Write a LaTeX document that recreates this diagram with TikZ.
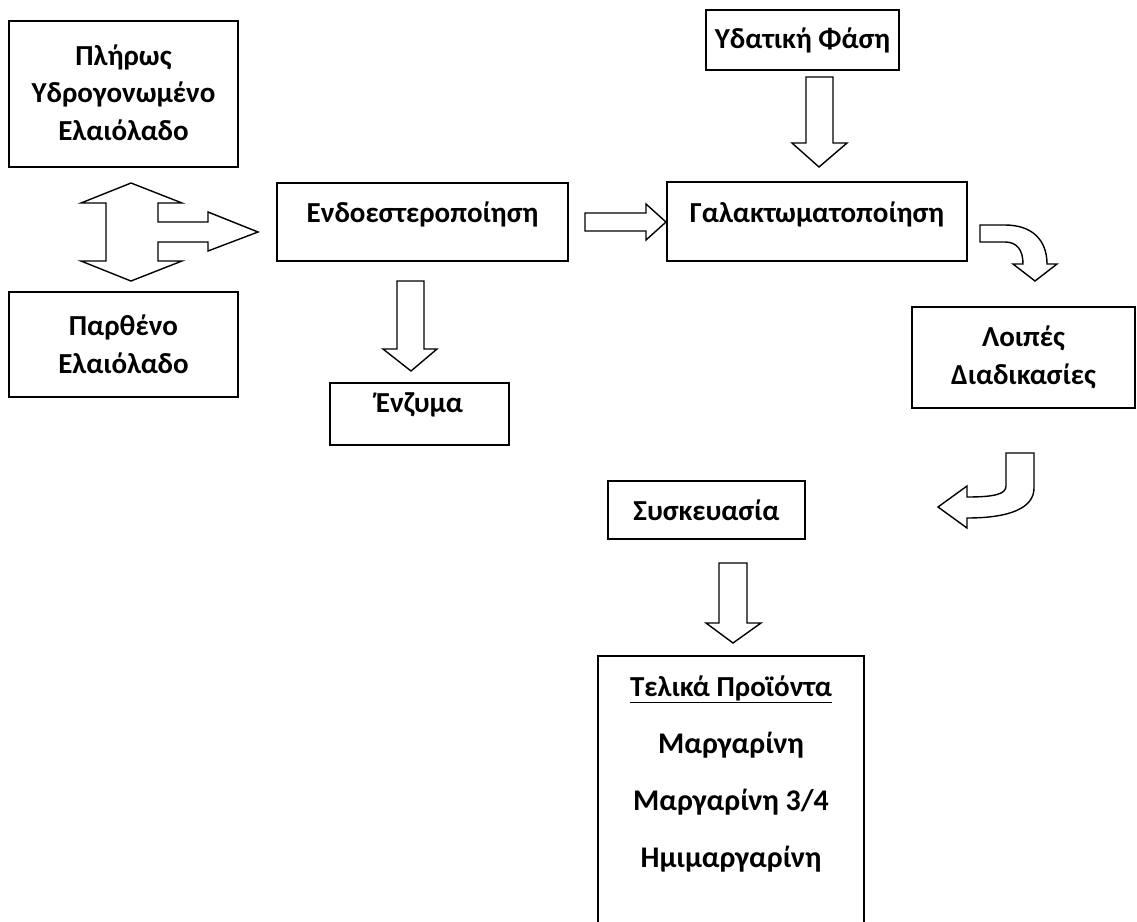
\documentclass[tikz,border=0pt]{standalone}
\usepackage{fontspec}
\setmainfont{Carlito}
\begin{document}
\begin{tikzpicture}[x=1pt,y=-1pt,
  box/.style={draw, line width=1.7pt, inner sep=0pt},
  txt/.style={align=center, inner sep=0pt, anchor=base, font=\bfseries\fontsize{29}{37.5}\selectfont},
  blk/.style={draw, line width=1.4pt, line join=miter, fill=white}]
\clip (0,0) rectangle (1137,921);
\fill[white] (0,0) rectangle (1137,921);
% boxes (empty frames) and their texts (anchor=base = baseline of last line)
\node[box, minimum width=229pt, minimum height=146pt] (pliros) at (123.5,94) {};
\node[txt] (pliros-t) at (123.5,140) {Πλήρως\\Υδρογονωμένο\\Ελαιόλαδο};
\node[box, minimum width=229pt, minimum height=105pt] (parth) at (123.5,344.5) {};
\node[txt] (parth-t) at (123.5,373) {Παρθένο\\Ελαιόλαδο};
\node[box, minimum width=291pt, minimum height=78pt] (endo) at (422.5,222) {};
\node[txt] (endo-t) at (422.5,222) {Ενδοεστεροποίηση};
\node[box, minimum width=179pt, minimum height=62pt] (enz) at (419.5,414) {};
\node[txt] (enz-t) at (419.5,412) {Ένζυμα};
\node[box, minimum width=193pt, minimum height=60pt] (ydat) at (802.5,40) {};
\node[txt] (ydat-t) at (802.5,48) {Υδατική Φάση};
\node[box, minimum width=300pt, minimum height=79pt] (galakt) at (817,221.5) {};
\node[txt] (galakt-t) at (817,222) {Γαλακτωματοποίηση};
\node[box, minimum width=223pt, minimum height=101pt] (loip) at (1023.5,357.5) {};
\node[txt] (loip-t) at (1023.5,384) {Λοιπές\\Διαδικασίες};
\node[box, minimum width=197pt, minimum height=58pt] (sysk) at (706.5,510) {};
\node[txt] (sysk-t) at (706.5,520) {Συσκευασία};
\node[box, minimum width=266pt, minimum height=300pt, anchor=north] (final) at (731,655) {};
\node[txt, font=\bfseries\fontsize{30}{57}\selectfont] (final-t) at (731,867)
  {{\bfseries\fontsize{29}{57}\selectfont\underline{Τελικά Προϊόντα}}\\
   {\bfseries Μαργαρίνη}\\{\bfseries Μαργαρίνη 3/4}\\{\bfseries Ημιμαργαρίνη}};
% left double/triple arrow
\draw[blk] (131,183) -- (182,203) -- (158,203) -- (158,222) -- (208,222) -- (208,212) -- (258,232)
  -- (208,251) -- (208,242) -- (158,242) -- (158,261) -- (182,261) -- (131,281) -- (81,261)
  -- (106,261) -- (106,203) -- (81,203) -- cycle;
% endo -> enzyma
\draw[blk] (397,281) -- (424,281) -- (424,349) -- (437,349) -- (411,371) -- (383,349) -- (397,349) -- cycle;
% endo -> galakt
\draw[blk] (585,213) -- (646,213) -- (646,204) -- (666,222) -- (646,240) -- (646,231) -- (585,231) -- cycle;
% ydatiki -> galakt
\draw[blk] (806,77) -- (833,77) -- (833,143) -- (847,143) -- (819,167) -- (792,143) -- (806,143) -- cycle;
% galakt -> loipes (curved)
\draw[blk] (980,225) -- (1005,225) .. controls (1032,225) and (1047,240) .. (1047,264)
  -- (1057,264) -- (1035,281) -- (1013,264) -- (1023,264)
  .. controls (1023,250) and (1017,242) .. (1005,242) -- (980,242) -- cycle;
% loipes -> sysk (curved)
\draw[blk] (1006,453) -- (1034,453) -- (1034,488) .. controls (1034,508) and (1010,518) .. (967,518)
  -- (967,528) -- (938,507) -- (967,486) -- (967,497)
  .. controls (995,497) and (1006,494) .. (1006,486) -- cycle;
% sysk -> final
\draw[blk] (719,563) -- (747,563) -- (747,623) -- (761,623) -- (733,643) -- (706,623) -- (719,623) -- cycle;
\end{tikzpicture}
\end{document}
